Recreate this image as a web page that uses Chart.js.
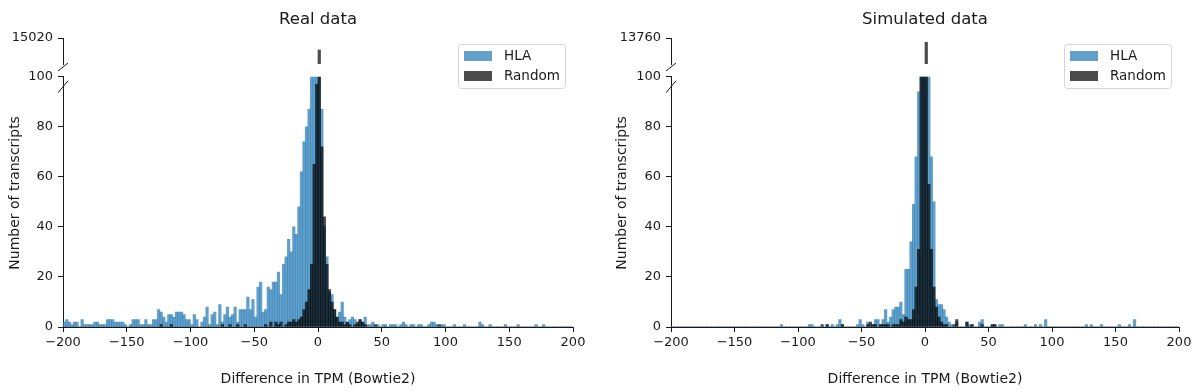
<!DOCTYPE html>
<html>
<head>
<meta charset="utf-8">
<script src="https://cdn.jsdelivr.net/npm/chart.js@4.4.1/dist/chart.umd.min.js"></script>
<style>
  html, body { margin: 0; padding: 0; background: #fff; }
  #wrap { position: relative; width: 1200px; height: 391px; }
  canvas { position: absolute; top: 0; }
</style>
</head>
<body>
<div id="wrap">
  <canvas id="realLow" width="600" height="391" style="left:0px"></canvas>
  <canvas id="realHigh" width="600" height="120" style="left:0px"></canvas>
  <canvas id="simLow" width="600" height="391" style="left:600px"></canvas>
  <canvas id="simHigh" width="600" height="120" style="left:600px"></canvas>
</div>
<script>
// histogram bins: width 2, from -200 to 200 (200 bins)
const binCenters = Array.from({ length: 200 }, (_, i) => -199 + 2 * i);
const xTicks = [-200, -150, -100, -50, 0, 50, 100, 150, 200];

// Real data, counts per bin (each row = 20 bins = 40 TPM)
const realHla = [
  2, 3, 2, 1, 2, 2, 0, 3, 1, 1, 1, 1, 2, 2, 1, 1, 1, 3, 3, 3,
  2, 2, 2, 2, 1, 0, 1, 3, 3, 3, 1, 1, 3, 1, 1, 3, 3, 7, 6, 4,
  2, 5, 5, 4, 6, 6, 6, 5, 3, 3, 1, 5, 3, 0, 2, 4, 8, 1, 5, 6,
  1, 9, 2, 5, 8, 4, 5, 8, 2, 7, 7, 7, 12, 7, 11, 4, 16, 18, 6, 7,
  16, 15, 18, 18, 22, 13, 25, 28, 35, 30, 40, 37, 48, 62, 74, 80, 87, 160, 280, 450,
  350, 87, 40, 28, 14, 13, 7, 4, 6, 10, 4, 2, 3, 4, 3, 1, 3, 2, 4, 1,
  1, 2, 0, 1, 0, 1, 1, 0, 1, 1, 1, 0, 1, 2, 1, 0, 1, 1, 0, 1,
  1, 0, 0, 1, 2, 2, 1, 0, 1, 1, 0, 0, 0, 1, 0, 0, 0, 1, 0, 0,
  0, 0, 0, 2, 1, 0, 0, 1, 0, 0, 0, 0, 0, 1, 0, 0, 0, 0, 1, 0,
  0, 0, 0, 0, 0, 1, 0, 0, 1, 0, 0, 0, 0, 0, 0, 0, 0, 0, 0, 0
];
const realRandom = [
  0, 0, 0, 0, 0, 0, 0, 0, 0, 0, 0, 0, 0, 0, 0, 0, 0, 0, 0, 0,
  0, 0, 0, 0, 0, 0, 0, 0, 0, 0, 0, 0, 0, 0, 0, 0, 0, 0, 1, 0,
  0, 0, 1, 0, 0, 0, 0, 0, 0, 0, 0, 0, 0, 0, 0, 0, 0, 0, 0, 0,
  0, 0, 1, 0, 0, 1, 0, 0, 1, 0, 0, 1, 0, 0, 0, 0, 0, 0, 0, 1,
  0, 2, 0, 2, 1, 2, 0, 1, 2, 2, 3, 2, 3, 4, 7, 10, 15, 25, 65, 97,
  13870, 72, 44, 25, 15, 10, 7, 4, 2, 2, 1, 2, 1, 0, 1, 2, 3, 2, 1, 0,
  0, 0, 1, 0, 0, 0, 0, 0, 0, 0, 0, 0, 0, 0, 0, 0, 0, 0, 0, 0,
  0, 0, 0, 0, 0, 0, 0, 1, 0, 0, 0, 0, 0, 0, 0, 0, 0, 0, 0, 0,
  0, 0, 0, 0, 0, 0, 0, 0, 0, 0, 0, 0, 0, 0, 0, 0, 0, 0, 0, 0,
  0, 0, 0, 0, 0, 0, 0, 0, 0, 0, 0, 0, 0, 0, 0, 0, 0, 0, 0, 0
];

// Simulated data
const simHla = [
  0, 0, 0, 0, 0, 0, 0, 0, 0, 0, 0, 0, 0, 0, 0, 0, 0, 0, 0, 0,
  0, 0, 0, 0, 0, 0, 0, 0, 0, 0, 0, 0, 0, 0, 0, 0, 0, 0, 0, 0,
  0, 0, 0, 1, 0, 0, 0, 0, 0, 0, 0, 0, 0, 0, 1, 1, 0, 0, 0, 0,
  0, 1, 0, 1, 0, 1, 3, 1, 0, 0, 0, 0, 0, 1, 3, 1, 0, 2, 0, 1,
  3, 3, 1, 3, 7, 2, 4, 7, 8, 8, 10, 5, 23, 23, 34, 49, 68, 94, 150, 400,
  600, 200, 68, 50, 11, 9, 9, 7, 4, 2, 1, 0, 2, 0, 0, 0, 2, 1, 1, 0,
  0, 2, 3, 0, 0, 0, 1, 1, 0, 1, 1, 0, 0, 0, 0, 0, 0, 0, 0, 1,
  0, 0, 0, 1, 0, 1, 0, 3, 0, 0, 0, 0, 0, 0, 0, 0, 0, 0, 0, 0,
  0, 0, 0, 1, 0, 1, 0, 0, 0, 1, 0, 0, 0, 0, 0, 0, 1, 0, 0, 0,
  1, 0, 3, 0, 0, 0, 0, 0, 0, 0, 0, 0, 0, 0, 0, 0, 0, 0, 0, 0
];
const simRandom = [
  0, 0, 0, 0, 0, 0, 0, 0, 0, 0, 0, 0, 0, 0, 0, 0, 0, 0, 0, 0,
  0, 0, 0, 0, 0, 0, 0, 0, 0, 0, 0, 0, 0, 0, 0, 0, 0, 0, 0, 0,
  0, 0, 0, 0, 0, 0, 0, 0, 0, 0, 0, 0, 0, 0, 0, 0, 0, 0, 0, 1,
  0, 1, 0, 0, 0, 0, 0, 1, 0, 0, 0, 0, 0, 0, 0, 0, 0, 1, 2, 1,
  1, 0, 1, 1, 1, 1, 0, 1, 1, 1, 3, 2, 4, 3, 3, 7, 16, 31, 120, 300,
  13350, 57, 31, 16, 8, 4, 2, 1, 1, 0, 0, 1, 3, 0, 0, 0, 2, 0, 1, 0,
  0, 0, 1, 0, 0, 0, 1, 1, 0, 0, 0, 0, 0, 0, 0, 0, 0, 0, 0, 0,
  0, 0, 0, 0, 0, 0, 0, 0, 0, 0, 0, 0, 0, 0, 0, 0, 0, 0, 0, 0,
  0, 0, 0, 0, 0, 0, 0, 0, 0, 0, 0, 0, 0, 0, 0, 0, 0, 0, 0, 0,
  0, 0, 0, 0, 0, 0, 0, 0, 0, 0, 0, 0, 0, 0, 0, 0, 0, 0, 0, 0
];

// broken y axis: lower part 0-100, upper part ends at these tick values
const lowerMax = 100;
const realTop = 15020;
const simTop = 13760;
const upperSpan = 2500;

const hlaColor = 'rgba(31, 119, 180, 0.7)';
const randomColor = 'rgba(0, 0, 0, 0.7)';
const ink = '#1a1a1a';

Chart.defaults.font.family = "'DejaVu Sans', sans-serif";
Chart.defaults.color = ink;

function makeDatasets(hla, random) {
  const common = { grouped: false, barPercentage: 1, categoryPercentage: 1, borderWidth: 0 };
  return [
    Object.assign({ label: 'HLA', data: binCenters.map((x, i) => ({ x: x, y: hla[i] })), backgroundColor: hlaColor, order: 1 }, common),
    Object.assign({ label: 'Random', data: binCenters.map((x, i) => ({ x: x, y: random[i] })), backgroundColor: randomColor, order: 0 }, common)
  ];
}

const minusSign = v => (v < 0 ? '\u2212' + Math.abs(v) : String(v));

// the little "//" marks of the broken axis
const breakMarks = {
  id: 'breakMarks',
  afterDraw(chart, args, opts) {
    const { ctx, chartArea } = chart;
    const y = (opts.edge === 'bottom' ? chartArea.bottom : chartArea.top) + opts.shift;
    ctx.save();
    ctx.strokeStyle = ink;
    ctx.lineWidth = 1;
    ctx.beginPath();
    ctx.moveTo(chartArea.left - 5, y + opts.dy);
    ctx.lineTo(chartArea.left + 5, y - opts.dy);
    ctx.stroke();
    ctx.restore();
  }
};

// y label shared by both halves of the broken axis, a bit above the lower panel centre
const sideLabel = {
  id: 'sideLabel',
  afterDraw(chart, args, opts) {
    const { ctx, chartArea } = chart;
    ctx.save();
    ctx.translate(opts.x, (chartArea.top + chartArea.bottom) / 2 + opts.shift);
    ctx.rotate(-Math.PI / 2);
    ctx.font = "14px 'DejaVu Sans'";
    ctx.fillStyle = ink;
    ctx.textAlign = 'center';
    ctx.textBaseline = 'middle';
    ctx.fillText(opts.text, 0, 0);
    ctx.restore();
  }
};

// legend box in the upper right corner
const boxLegend = {
  id: 'boxLegend',
  afterDraw(chart) {
    const { ctx, chartArea } = chart;
    const w = 107, h = 44;
    const x0 = chartArea.right - 8 - w, y0 = chartArea.top + 6;
    ctx.save();
    ctx.fillStyle = 'rgba(255,255,255,0.8)';
    ctx.strokeStyle = '#d6d6d6';
    ctx.lineWidth = 1;
    ctx.beginPath();
    ctx.roundRect(x0 + 0.5, y0 + 0.5, w, h, 3);
    ctx.fill();
    ctx.stroke();
    ctx.font = "13.5px 'DejaVu Sans'";
    ctx.textBaseline = 'middle';
    chart.data.datasets.forEach((ds, i) => {
      const cy = y0 + 12 + i * 20;
      ctx.fillStyle = ds.backgroundColor;
      ctx.fillRect(x0 + 6, cy - 5, 28, 10);
      ctx.fillStyle = ink;
      ctx.fillText(ds.label, x0 + 46, cy);
    });
    ctx.restore();
  }
};

function xAxis(show) {
  const axis = {
    type: 'linear', min: -200, max: 200, offset: false, display: show,
    afterBuildTicks: s => { s.ticks = xTicks.map(v => ({ value: v })); },
    grid: { display: true, drawOnChartArea: false, tickLength: 5, color: ink, offset: false },
    border: { display: true, color: ink },
    ticks: { padding: 3, font: { size: 13 }, color: ink, maxRotation: 0, callback: minusSign }
  };
  if (show) {
    axis.title = { display: true, text: 'Difference in TPM (Bowtie2)', font: { size: 14 }, color: ink, padding: { top: 0, bottom: 3 } };
    axis.afterFit = s => { s.height = 64; };
  }
  return axis;
}

function lowerChart(id, title, hla, random, axisWidth, labelX, rightPad) {
  return new Chart(document.getElementById(id), {
    type: 'bar',
    data: { datasets: makeDatasets(hla, random) },
    options: {
      responsive: false, animation: false, devicePixelRatio: 1,
      layout: { padding: { left: 0, right: rightPad, top: 0, bottom: 0 } },
      plugins: {
        legend: { display: false },
        tooltip: { enabled: false },
        title: { display: true, text: title, fullSize: false, color: ink, font: { size: 16.5, weight: 'normal' }, padding: { top: 10, bottom: 47 } },
        breakMarks: { edge: 'top', shift: 10, dy: 6 },
        sideLabel: { text: 'Number of transcripts', x: labelX, shift: -9 }
      },
      scales: {
        x: xAxis(true),
        y: {
          min: 0, max: lowerMax,
          grid: { display: true, drawOnChartArea: false, tickLength: 5, color: ink },
          border: { display: true, color: ink },
          ticks: { stepSize: 20, padding: 5, font: { size: 13 }, color: ink },
          afterFit: s => { s.width = axisWidth; }
        }
      }
    },
    plugins: [breakMarks, sideLabel]
  });
}

function upperChart(id, hla, random, top, axisWidth, rightPad) {
  return new Chart(document.getElementById(id), {
    type: 'bar',
    data: { datasets: makeDatasets(hla, random) },
    options: {
      responsive: false, animation: false, devicePixelRatio: 1,
      layout: { padding: { left: 0, right: rightPad, top: 38, bottom: 56 } },
      plugins: {
        legend: { display: false },
        tooltip: { enabled: false },
        title: { display: false },
        breakMarks: { edge: 'bottom', shift: 3, dy: 4 }
      },
      scales: {
        x: xAxis(false),
        y: {
          min: top - upperSpan, max: top,
          afterBuildTicks: s => { s.ticks = [{ value: top }]; },
          grid: { display: true, drawOnChartArea: false, tickLength: 5, color: ink },
          border: { display: true, color: ink },
          ticks: { padding: 5, font: { size: 13 }, color: ink, callback: v => String(v) },
          afterFit: s => { s.width = axisWidth; }
        }
      }
    },
    plugins: [breakMarks, boxLegend]
  });
}

lowerChart('realLow', 'Real data', realHla, realRandom, 63, 15, 27);
upperChart('realHigh', realHla, realRandom, realTop, 63, 27);
lowerChart('simLow', 'Simulated data', simHla, simRandom, 71, 22, 21);
upperChart('simHigh', simHla, simRandom, simTop, 71, 21);
</script>
</body>
</html>
